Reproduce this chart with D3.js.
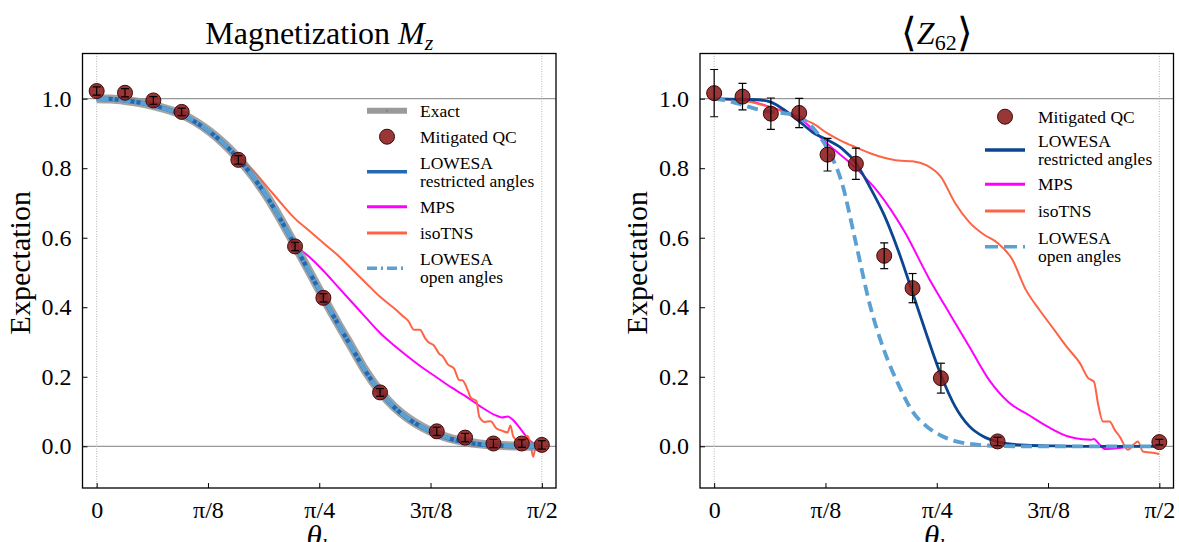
<!DOCTYPE html>
<html>
<head>
<meta charset="utf-8">
<script src="https://cdn.jsdelivr.net/npm/d3@7"></script>
<style>
  body { margin: 0; background: #fff; }
  svg text { font-family: "Liberation Serif", "Times New Roman", Times, serif; fill: #000; }
</style>
</head>
<body>
<svg id="chart" width="1179" height="542"></svg>
<script>
var PI = Math.PI;

// ticks
var xTickVals = [0, PI / 8, PI / 4, 3 * PI / 8, PI / 2];
var xTickLabels = ["0", "π/8", "π/4", "3π/8", "π/2"];
var yTickVals = [0, 0.2, 0.4, 0.6, 0.8, 1.0];

// ---- left panel: magnetization Mz ----
var mzQcTheta = [0, 0.1, 0.2, 0.3, 0.5, 0.7, 0.8, 1.0, 1.2, 1.3, 1.4, 1.5, PI / 2];
var mzQc = [1.022, 1.017, 0.995, 0.962, 0.824, 0.575, 0.427, 0.155, 0.043, 0.025, 0.008, 0.008, 0.004];
var mzQcErr = [0.012, 0.012, 0.011, 0.011, 0.012, 0.012, 0.012, 0.011, 0.012, 0.012, 0.012, 0.011, 0.012];

var mzExactTheta = [0, 0.05, 0.1, 0.15, 0.2, 0.25, 0.3, 0.35, 0.4, 0.45, 0.5, 0.55, 0.6, 0.65, 0.7, 0.75, 0.8, 0.85, 0.9, 0.95, 1.0, 1.05, 1.1, 1.15, 1.2, 1.25, 1.3, 1.35, 1.4, 1.45, 1.5, PI / 2];
var mzExact = [1.0, 0.999, 0.995, 0.989, 0.98, 0.969, 0.955, 0.933, 0.905, 0.87, 0.828, 0.778, 0.72, 0.652, 0.578, 0.503, 0.428, 0.355, 0.285, 0.215, 0.158, 0.113, 0.08, 0.055, 0.036, 0.022, 0.013, 0.007, 0.0035, 0.0015, 0.0005, 0];
var mzLowesaR = [1.0, 0.999, 0.995, 0.989, 0.98, 0.969, 0.954, 0.932, 0.904, 0.869, 0.827, 0.777, 0.719, 0.651, 0.577, 0.502, 0.427, 0.354, 0.284, 0.214, 0.157, 0.112, 0.079, 0.054, 0.035, 0.021, 0.012, 0.006, 0.003, 0.001, 0.0003, 0];
var mzLowesaO = [1.0, 0.999, 0.995, 0.989, 0.98, 0.969, 0.955, 0.933, 0.905, 0.87, 0.828, 0.778, 0.72, 0.652, 0.578, 0.503, 0.428, 0.355, 0.285, 0.215, 0.158, 0.113, 0.08, 0.055, 0.036, 0.022, 0.013, 0.007, 0.0035, 0.0015, 0.0005, 0];

var mzMpsTheta = [0, 0.1, 0.2, 0.3, 0.4, 0.5, 0.6, 0.7, 0.75, 0.8, 0.85, 0.9, 0.95, 1.0, 1.05, 1.1, 1.15, 1.2, 1.25, 1.3, 1.35, 1.4, 1.43, 1.45, 1.47, 1.5, 1.53, 1.55, PI / 2];
var mzMps = [1.0, 0.995, 0.98, 0.955, 0.905, 0.828, 0.72, 0.58, 0.545, 0.505, 0.46, 0.415, 0.37, 0.326, 0.29, 0.257, 0.226, 0.198, 0.17, 0.145, 0.117, 0.092, 0.083, 0.086, 0.075, 0.045, 0.015, 0.005, 0.003];

var mzIsoTheta = [0, 0.1, 0.2, 0.3, 0.4, 0.45, 0.5, 0.55, 0.6, 0.65, 0.7, 0.75, 0.8, 0.85, 0.9, 0.95, 1.0, 1.03, 1.06, 1.08, 1.1, 1.12, 1.14, 1.16, 1.17, 1.19, 1.21, 1.22, 1.24, 1.26, 1.28, 1.29, 1.31, 1.32, 1.34, 1.35, 1.37, 1.39, 1.41, 1.43, 1.45, 1.46, 1.47, 1.49, 1.51, 1.52, 1.53, 1.54, 1.55, PI / 2];
var mzIso = [1.0, 0.995, 0.98, 0.955, 0.905, 0.872, 0.835, 0.795, 0.748, 0.70, 0.655, 0.62, 0.585, 0.55, 0.51, 0.47, 0.43, 0.41, 0.39, 0.375, 0.36, 0.335, 0.335, 0.31, 0.3, 0.29, 0.265, 0.26, 0.235, 0.225, 0.19, 0.19, 0.16, 0.14, 0.13, 0.085, 0.07, 0.072, 0.052, 0.045, 0.04, 0.06, 0.028, 0.014, 0.02, 0.03, 0.01, -0.03, 0.0, 0.003];

// ---- right panel: <Z62> ----
var zQcTheta = [0, 0.1, 0.2, 0.3, 0.4, 0.5, 0.6, 0.7, 0.8, 1.0, PI / 2];
var zQc = [1.016, 1.006, 0.957, 0.959, 0.839, 0.813, 0.548, 0.455, 0.196, 0.014, 0.012];
var zQcErr = [0.068, 0.038, 0.045, 0.042, 0.047, 0.045, 0.037, 0.042, 0.043, 0.012, 0.008];

var zLowesaRTheta = [0, 0.05, 0.1, 0.15, 0.2, 0.25, 0.3, 0.35, 0.4, 0.45, 0.5, 0.55, 0.6, 0.65, 0.7, 0.75, 0.8, 0.85, 0.9, 0.95, 1.0, 1.05, 1.1, 1.2, 1.3, 1.4, 1.5, PI / 2];
var zLowesaR = [1.0, 0.999, 0.998, 0.997, 0.99, 0.966, 0.935, 0.902, 0.881, 0.857, 0.815, 0.745, 0.665, 0.562, 0.442, 0.32, 0.205, 0.115, 0.058, 0.028, 0.013, 0.006, 0.003, 0.001, 0, 0, 0, 0];

var zLowesaOTheta = [0, 0.05, 0.1, 0.15, 0.2, 0.25, 0.3, 0.35, 0.4, 0.45, 0.5, 0.55, 0.6, 0.65, 0.7, 0.75, 0.8, 0.85, 0.9, 0.95, 1.0, 1.1, 1.2, 1.3, 1.4, 1.5, PI / 2];
var zLowesaO = [1.0, 0.993, 0.982, 0.97, 0.962, 0.958, 0.948, 0.915, 0.855, 0.76, 0.585, 0.405, 0.275, 0.178, 0.1, 0.057, 0.031, 0.015, 0.007, 0.003, 0.001, 0, 0, 0, 0, 0, 0];

var zMpsTheta = [0, 0.1, 0.2, 0.3, 0.4, 0.5, 0.58, 0.67, 0.76, 0.83, 0.9, 0.97, 1.04, 1.11, 1.18, 1.25, 1.3, 1.33, 1.34, 1.36, 1.38, 1.43, 1.47, 1.5, PI / 2];
var zMps = [1.0, 0.997, 0.975, 0.945, 0.87, 0.80, 0.73, 0.62, 0.48, 0.383, 0.287, 0.191, 0.126, 0.09, 0.055, 0.028, 0.02, 0.019, 0.021, 0.005, -0.008, -0.005, 0.0, 0.0, 0.0];

var zIsoTheta = [0, 0.1, 0.2, 0.3, 0.35, 0.4, 0.45, 0.5, 0.55, 0.6, 0.65, 0.7, 0.75, 0.8, 0.85, 0.9, 0.95, 1.0, 1.05, 1.1, 1.15, 1.2, 1.25, 1.29, 1.32, 1.34, 1.355, 1.372, 1.395, 1.415, 1.431, 1.46, 1.48, 1.495, 1.513, 1.54, PI / 2];
var zIso = [1.0, 0.995, 0.975, 0.945, 0.928, 0.9, 0.878, 0.86, 0.843, 0.83, 0.822, 0.82, 0.808, 0.775, 0.70, 0.645, 0.61, 0.585, 0.54, 0.45, 0.39, 0.335, 0.28, 0.24, 0.196, 0.186, 0.12, 0.071, 0.071, 0.045, 0.028, -0.01, 0.005, 0.014, -0.015, -0.018, -0.022];

var svg = d3.select("#chart");
svg.append("rect").attr("width", 1179).attr("height", 542).attr("fill", "#fff");

var clipN = 0;

function drawPanel(p) {
  var top = 53.5, bottom = 488;
  var x = d3.scaleLinear().domain([-0.05, PI / 2 + 0.05]).range([p.left, p.right]);
  var y = d3.scaleLinear().domain([-0.12, 1.13]).range([bottom, top]);
  var g = svg.append("g");

  var cid = "clip" + (clipN++);
  g.append("clipPath").attr("id", cid).append("rect")
    .attr("x", p.left).attr("y", top).attr("width", p.right - p.left).attr("height", bottom - top);
  var plot = g.append("g").attr("clip-path", "url(#" + cid + ")");

  // reference lines
  [0, 1].forEach(function (v) {
    plot.append("line").attr("x1", p.left).attr("x2", p.right)
      .attr("y1", y(v)).attr("y2", y(v))
      .attr("stroke", "#999").attr("stroke-width", 1.2);
  });
  [0, PI / 2].forEach(function (v) {
    plot.append("line").attr("x1", x(v)).attr("x2", x(v))
      .attr("y1", top).attr("y2", bottom)
      .attr("stroke", "#b5b5b5").attr("stroke-width", 1).attr("stroke-dasharray", "1,1.5");
  });

  var line = d3.line().x(function (d) { return x(d[0]); }).y(function (d) { return y(d[1]); })
    .curve(d3.curveMonotoneX);

  p.series.forEach(function (s) {
    plot.append("path").datum(d3.zip(s.theta, s.values))
      .attr("d", line).attr("fill", "none")
      .attr("stroke", s.color).attr("stroke-width", s.width)
      .attr("stroke-opacity", s.opacity || 1)
      .attr("stroke-dasharray", s.dash || null)
      .attr("stroke-linejoin", "round");
  });

  // mitigated QC, error bars drawn over the markers
  var qc = d3.zip(p.qcTheta, p.qc, p.qcErr);
  plot.append("g").selectAll("circle").data(qc).join("circle")
    .attr("cx", function (d) { return x(d[0]); })
    .attr("cy", function (d) { return y(d[1]); })
    .attr("r", 7.5)
    .attr("fill", "#8b1a1a").attr("fill-opacity", 0.88)
    .attr("stroke", "#3a0a0a").attr("stroke-width", 1);
  var eb = plot.append("g").attr("stroke", "#000").attr("stroke-width", 1.2);
  qc.forEach(function (d) {
    var cx = x(d[0]);
    eb.append("line").attr("x1", cx).attr("x2", cx).attr("y1", y(d[1] - d[2])).attr("y2", y(d[1] + d[2]));
    [d[1] - d[2], d[1] + d[2]].forEach(function (v) {
      eb.append("line").attr("x1", cx - 4).attr("x2", cx + 4).attr("y1", y(v)).attr("y2", y(v));
    });
  });

  // axes with inward ticks
  var ya = g.append("g").attr("transform", "translate(" + p.left + ",0)")
    .call(d3.axisLeft(y).tickValues(yTickVals).tickSize(-5).tickPadding(11).tickFormat(d3.format(".1f")));
  var xa = g.append("g").attr("transform", "translate(0," + bottom + ")")
    .call(d3.axisBottom(x).tickValues(xTickVals).tickSize(-5).tickPadding(13)
      .tickFormat(function (d, i) { return xTickLabels[i]; }));
  [ya, xa].forEach(function (a) {
    a.select(".domain").remove();
    a.selectAll(".tick line").attr("stroke", "#000").attr("stroke-width", 1);
    a.selectAll(".tick text").attr("font-size", 24).attr("font-family", null);
  });

  // frame
  g.append("rect").attr("x", p.left).attr("y", top).attr("width", p.right - p.left).attr("height", bottom - top)
    .attr("fill", "none").attr("stroke", "#000").attr("stroke-width", 1.3);

  // title
  var cxm = (p.left + p.right) / 2;
  p.title(g.append("text").attr("x", cxm).attr("y", 44).attr("text-anchor", "middle").attr("font-size", 32));

  // axis labels
  g.append("text").attr("transform", "translate(" + (p.left - 53) + "," + ((top + bottom) / 2 - 8) + ") rotate(-90)")
    .attr("text-anchor", "middle").attr("font-size", 30).text("Expectation");
  var xl = g.append("text").attr("x", cxm).attr("y", 547).attr("text-anchor", "middle").attr("font-size", 31);
  xl.append("tspan").attr("font-style", "italic").text("θ");
  xl.append("tspan").attr("font-style", "italic").attr("font-size", 21).attr("dy", 6).text("h");

  // legend (no frame)
  var lg = g.append("g");
  p.legend.forEach(function (r) {
    var x0 = p.legX, x1 = p.legX + 40, xm = (x0 + x1) / 2;
    if (r.kind === "qc") {
      lg.append("circle").attr("cx", xm).attr("cy", r.y).attr("r", 7.5)
        .attr("fill", "#8b1a1a").attr("fill-opacity", 0.88).attr("stroke", "#3a0a0a").attr("stroke-width", 1);
    } else {
      lg.append("line").attr("x1", x0).attr("x2", x1).attr("y1", r.y).attr("y2", r.y)
        .attr("stroke", r.color).attr("stroke-width", r.width).attr("stroke-opacity", r.opacity || 1)
        .attr("stroke-dasharray", r.dash || null);
      if (r.kind === "exact") {
        lg.append("circle").attr("cx", xm).attr("cy", r.y).attr("r", 1.2).attr("fill", "#888");
      }
    }
    var n = r.text.length;
    r.text.forEach(function (t, i) {
      lg.append("text").attr("x", p.legX + 53).attr("y", r.y + (i - (n - 1) / 2) * 18)
        .attr("dy", "0.35em").attr("font-size", 17.5).text(t);
    });
  });
}

var cLeftBlue = "#2368b0", cNavy = "#0b4690", cLight = "#5aa0d2", cMps = "#ff00ff", cIso = "#ff6345";

drawPanel({
  left: 82.5, right: 556,
  qcTheta: mzQcTheta, qc: mzQc, qcErr: mzQcErr,
  series: [
    { theta: mzMpsTheta, values: mzMps, color: cMps, width: 2 },
    { theta: mzIsoTheta, values: mzIso, color: cIso, width: 2 },
    { theta: mzExactTheta, values: mzExact, color: "#8c8c8c", width: 9, opacity: 0.8 },
    { theta: mzExactTheta, values: mzLowesaR, color: cLeftBlue, width: 4.5 },
    { theta: mzExactTheta, values: mzLowesaO, color: cLight, width: 4.5, dash: "12,4,2,4" }
  ],
  title: function (t) {
    t.append("tspan").text("Magnetization ");
    t.append("tspan").attr("font-style", "italic").text("M");
    t.append("tspan").attr("font-style", "italic").attr("font-size", 22).attr("dy", 6).text("z");
  },
  legX: 367,
  legend: [
    { kind: "exact", y: 110.7, color: "#9a9a9a", width: 6, text: ["Exact"] },
    { kind: "qc", y: 136.7, text: ["Mitigated QC"] },
    { kind: "line", y: 171.7, color: cLeftBlue, width: 3.5, text: ["LOWESA", "restricted angles"] },
    { kind: "line", y: 206.7, color: cMps, width: 3, text: ["MPS"] },
    { kind: "line", y: 233, color: cIso, width: 3, text: ["isoTNS"] },
    { kind: "line", y: 268.3, color: cLight, width: 3.5, dash: "10,4,2,4", text: ["LOWESA", "open angles"] }
  ]
});

drawPanel({
  left: 700, right: 1173.5,
  qcTheta: zQcTheta, qc: zQc, qcErr: zQcErr,
  series: [
    { theta: zMpsTheta, values: zMps, color: cMps, width: 2 },
    { theta: zIsoTheta, values: zIso, color: cIso, width: 2 },
    { theta: zLowesaRTheta, values: zLowesaR, color: cNavy, width: 2.8 },
    { theta: zLowesaOTheta, values: zLowesaO, color: cLight, width: 3.8, dash: "11,6" }
  ],
  title: function (t) {
    t.append("tspan").attr("font-size", 40).attr("dy", 2).text("⟨");
    t.append("tspan").attr("font-style", "italic").attr("dy", -2).text("Z");
    t.append("tspan").attr("font-size", 22).attr("dy", 6).text("62");
    t.append("tspan").attr("font-size", 40).attr("dy", -4).text("⟩");
  },
  legX: 985,
  legend: [
    { kind: "qc", y: 116.7, text: ["Mitigated QC"] },
    { kind: "line", y: 150, color: cNavy, width: 3.5, text: ["LOWESA", "restricted angles"] },
    { kind: "line", y: 184.3, color: cMps, width: 3, text: ["MPS"] },
    { kind: "line", y: 211, color: cIso, width: 3, text: ["isoTNS"] },
    { kind: "line", y: 246.7, color: cLight, width: 3.5, dash: "13,6", text: ["LOWESA", "open angles"] }
  ]
});
</script>
</body>
</html>
